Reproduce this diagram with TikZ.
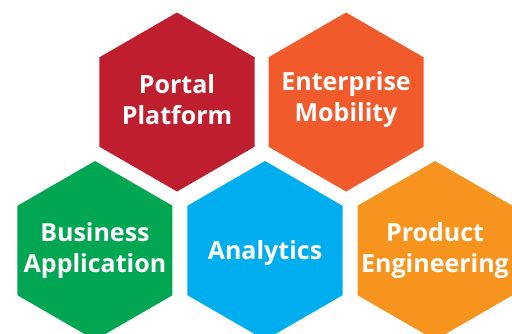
\documentclass[tikz,border=0pt]{standalone}
\usepackage{fontspec}
\setmainfont{Open Sans}
\usetikzlibrary{shapes.geometric, positioning}
\definecolor{hexred}{HTML}{BE1E2D}
\definecolor{hexorange}{HTML}{F15A2B}
\definecolor{hexgreen}{HTML}{00A651}
\definecolor{hexblue}{HTML}{00AEEF}
\definecolor{hexamber}{HTML}{F7941D}
\tikzset{
  hexcell/.style={regular polygon, regular polygon sides=6, shape border rotate=30,
    minimum size=179pt, inner sep=0pt, outer sep=0pt, draw=none, fill=#1},
  hextext/.style={text=white, align=center, font=\bfseries\fontsize{25}{31}\selectfont},
}

\begin{document}
\begin{tikzpicture}[x=1pt, y=1pt]
  \useasboundingbox (0,0) rectangle (512,-333);
  \clip (0,0) rectangle (512,-333);

  % Upper row.
  \node[hexcell=hexred] (portal) at (177,-102) {};
  \node[hexcell=hexorange, right=14pt of portal] (mobility) {};

  % Lower row.
  \node[hexcell=hexblue] (analytics) at (265,-250.5) {};
  \node[hexcell=hexgreen, left=15pt of analytics] (business) {};
  \node[hexcell=hexamber, right=15pt of analytics] (product) {};

  % Labels.
  \node[hextext, yshift=2pt] (portal_txt) at (portal) {Portal\\Platform};
  \node[hextext, yshift=2pt] (mobility_txt) at (mobility) {Enterprise\\Mobility};
  \node[hextext] (business_txt) at (business) {Business\\Application};
  \node[hextext, yshift=-3pt] (analytics_txt) at (analytics) {Analytics};
  \node[hextext] (product_txt) at (product) {Product\\Engineering};
\end{tikzpicture}
\end{document}
